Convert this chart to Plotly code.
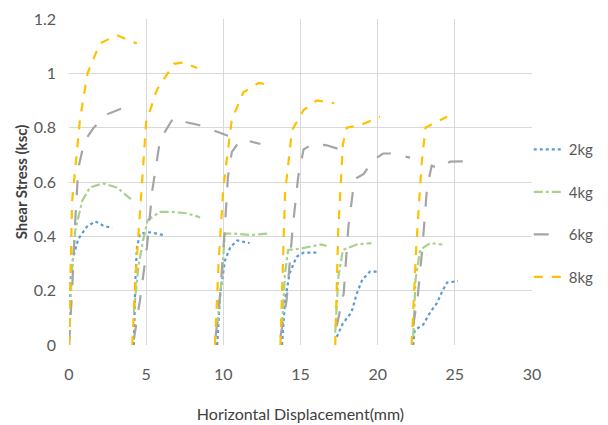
import plotly.graph_objects as go

# Horizontal displacement (mm) and shear stress (ksc); None separates load cycles
x_2kg = [0, 0.1, 0.28, 0.6, 1.15, 1.7, 2.2, 2.8, None,
         4.2, 4.3, 4.4, 4.6, 5.25, 6.1, None,
         9.6, 9.8, 10.1, 10.45, 10.9, 11.7, None,
         13.8, 14.0, 14.3, 14.75, 15.2, 16.1, None,
         17.35, 17.75, 18.3, 18.65, 19.0, 19.5, 20.0, None,
         22.3, 22.4, 22.95, 23.4, 23.85, 24.2, 24.5, 25.2]
y_2kg = [0, 0.24, 0.325, 0.39, 0.435, 0.455, 0.44, 0.43, None,
         0, 0.24, 0.36, 0.41, 0.415, 0.405, None,
         0, 0.19, 0.31, 0.36, 0.385, 0.375, None,
         0, 0.165, 0.265, 0.325, 0.34, 0.34, None,
         0.03, 0.08, 0.12, 0.19, 0.24, 0.27, 0.27, None,
         0, 0.055, 0.075, 0.12, 0.155, 0.2, 0.23, 0.235]

x_4kg = [0, 0.06, 0.2, 0.4, 0.85, 1.36, 2.2, 3.1, 4.15, None,
         4.2, 4.5, 4.8, 5.1, 5.9, 6.75, 7.6, 8.5, None,
         9.6, 9.9, 10.1, 10.65, 11.7, 12.9, None,
         13.8, 14.0, 14.2, 15.0, 16.3, 16.7, None,
         17.25, 17.45, 17.75, 18.65, 19.6, None,
         22.3, 22.45, 22.75, 23.4, 24.2]
y_4kg = [0, 0.12, 0.28, 0.42, 0.53, 0.58, 0.595, 0.58, 0.53, None,
         0.12, 0.29, 0.385, 0.46, 0.49, 0.49, 0.485, 0.47, None,
         0.07, 0.25, 0.41, 0.41, 0.405, 0.41, None,
         0.07, 0.265, 0.35, 0.355, 0.37, 0.365, None,
         0.045, 0.25, 0.35, 0.37, 0.375, None,
         0.03, 0.24, 0.35, 0.375, 0.37]

x_6kg = [0, 0.2, 0.4, 0.6, 1.0, 1.6, 2.5, 3.4, 4.1, None,
         4.2, 4.6, 5.05, 5.4, 5.9, 6.75, 7.6, 8.4, 9.6, 10.3, None,
         9.5, 9.8, 10.1, 10.3, 10.55, 11.1, 11.7, 12.4, None,
         13.7, 14.1, 14.5, 14.85, 15.2, 15.8, 16.7, 17.55, None,
         17.35, 17.8, 18.1, 18.5, 19.1, 19.7, 20.35, 20.8, 22.1, None,
         22.3, 22.6, 22.9, 23.2, 23.5, 24.0, 24.7, 26.0]
y_6kg = [0, 0.2, 0.45, 0.65, 0.75, 0.8, 0.85, 0.87, 0.85, None,
         0.02, 0.165, 0.36, 0.57, 0.755, 0.835, 0.82, 0.81, 0.785, 0.77, None,
         0.03, 0.19, 0.435, 0.62, 0.71, 0.755, 0.75, 0.74, None,
         0.03, 0.165, 0.435, 0.62, 0.72, 0.74, 0.735, 0.72, None,
         0.07, 0.19, 0.435, 0.61, 0.63, 0.68, 0.705, 0.705, 0.69, None,
         0.07, 0.18, 0.36, 0.58, 0.66, 0.65, 0.675, 0.677]

x_8kg = [0, 0.2, 0.71, 1.2, 2.0, 3.1, 4.4, None,
         4.1, 4.3, 5.0, 5.7, 6.8, 7.4, 8.3, None,
         9.46, 9.7, 10.0, 10.55, 11.3, 12.3, 13.0, None,
         13.7, 14.0, 14.45, 15.2, 16.05, 17.2, None,
         17.25, 17.45, 17.75, 18.0, 18.9, 20.15, None,
         22.2, 22.5, 22.85, 23.1, 23.6, 24.5]
y_8kg = [0, 0.53, 0.83, 1.0, 1.11, 1.14, 1.11, None,
         0, 0.24, 0.82, 0.94, 1.035, 1.04, 1.02, None,
         0, 0.31, 0.58, 0.83, 0.93, 0.965, 0.957, None,
         0, 0.56, 0.79, 0.865, 0.9, 0.89, None,
         0, 0.43, 0.74, 0.8, 0.81, 0.84, None,
         0, 0.36, 0.67, 0.8, 0.815, 0.84]

x_ticks = [0, 5, 10, 15, 20, 25, 30]
y_ticks = [0, 0.2, 0.4, 0.6, 0.8, 1, 1.2]

series = [
    ("2kg", x_2kg, y_2kg, "#5B9BD5", "dot"),
    ("4kg", x_4kg, y_4kg, "#A9D18E", "dashdot"),
    ("6kg", x_6kg, y_6kg, "#A5A5A5", "longdash"),
    ("8kg", x_8kg, y_8kg, "#FFC000", "dash"),
]

fig = go.Figure()
for i, (name, xs, ys, color, dash) in enumerate(series):
    fig.add_trace(go.Scatter(
        x=xs, y=ys, name=name, mode="lines", legendgroup=name,
        line=dict(color=color, width=2.2, dash=dash),
        connectgaps=False,
    ))

font_family = "Lato, Open Sans, sans-serif"
fig.update_layout(
    width=600, height=417,
    margin=dict(l=61, r=76, t=11, b=80, autoexpand=False),
    paper_bgcolor="white", plot_bgcolor="white",
    font=dict(family=font_family, size=16, color="#595959"),
    legend=dict(x=0.993, y=0.65, xanchor="left", yanchor="top",
                tracegroupgap=20, itemwidth=30,
                font=dict(size=15, color="#595959"),
                bgcolor="rgba(0,0,0,0)"),
    xaxis=dict(range=[0, 30], tickvals=x_ticks, showgrid=True,
               gridcolor="#D9D9D9", gridwidth=1, zeroline=False,
               showline=False, ticks="", tickfont=dict(size=16),
               ticklabelstandoff=18, automargin=False,
               title=dict(text="Horizontal Displacement(mm)",
                          font=dict(size=16, color="#404040"), standoff=26)),
    yaxis=dict(range=[0, 1.2], tickvals=y_ticks, showgrid=True,
               gridcolor="#D9D9D9", gridwidth=1, zeroline=False,
               showline=False, ticks="", tickfont=dict(size=16),
               ticklabelstandoff=12, automargin=False,
               title=dict(text="<b>Shear Stress (ksc)</b>",
                          font=dict(size=15, color="#404040"), standoff=2)),
)
fig.write_html("out.html")
